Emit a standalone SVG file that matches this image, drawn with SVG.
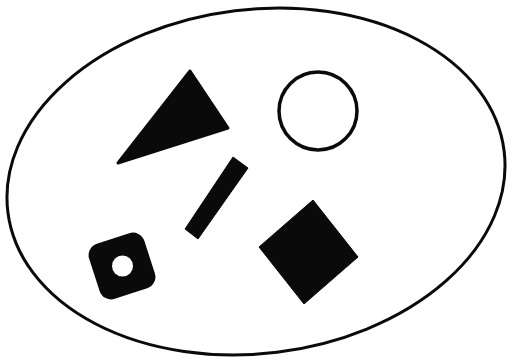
<svg xmlns="http://www.w3.org/2000/svg" width="509" height="361" viewBox="0 0 509 361">
<style>
.solid{fill:#0a0a0a;stroke:#0a0a0a;stroke-linejoin:round}
.outline{fill:none;stroke:#0a0a0a}
</style>
<rect width="509" height="361" fill="#ffffff"/>
<g id="boundary">
<ellipse class="outline" cx="256" cy="181.5" rx="250" ry="172" transform="rotate(-7 256 181.5)" stroke-width="3"/>
</g>
<g id="triangle">
<polygon class="solid" stroke-width="3" points="190,71 228,128 118,163"/>
</g>
<g id="circle">
<circle class="outline" cx="318" cy="111" r="39" stroke-width="3.5"/>
</g>
<g id="bar">
<polygon class="solid" stroke-width="1" points="233,157 248,168 198,239 185,229"/>
</g>
<g id="ring-square">
<rect class="solid" stroke-width="0" x="93" y="237" width="58" height="58" rx="12" transform="rotate(-18 122 266)"/>
<circle cx="122.5" cy="266" r="10.5" fill="#ffffff"/>
</g>
<g id="diamond">
<polygon class="solid" stroke-width="1" points="313,200 358,257 304,304 259,247"/>
</g>
</svg>
